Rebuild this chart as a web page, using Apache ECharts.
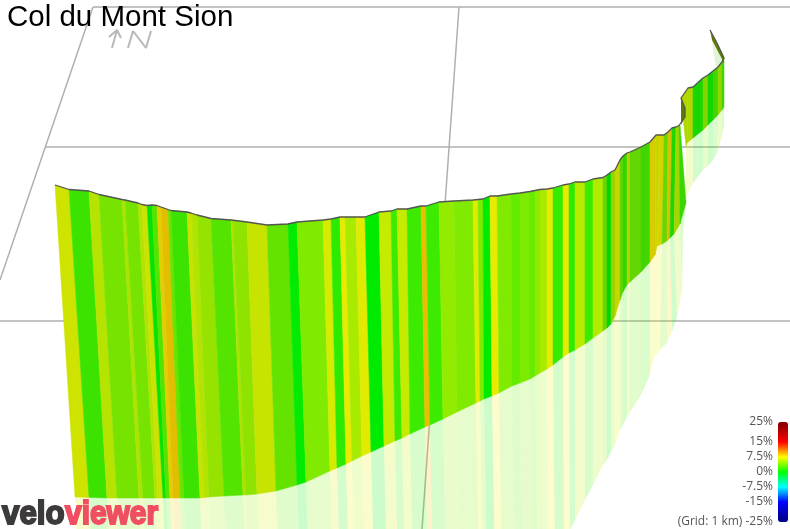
<!DOCTYPE html>
<html><head><meta charset="utf-8">
<style>html,body{margin:0;padding:0;background:#fff}#c{width:790px;height:529px}</style>
<script src="https://cdn.jsdelivr.net/npm/echarts@6/dist/echarts.min.js"></script>
</head><body><div id="c"></div>
<script>
// ---- climb wall, first stretch (projected scene values per station)
const part1TopX = [55,69,89,99,122,125,138,142,147,152,157,161,168,171,187,191,197,211,231,233,247,267,288,297,323,331,340,345,356,365,379,391,397,407,421,426,439,454,473,478,483,490,497,511,520,530,535,540,547,553,563,569,575,585,593,603,607,611,615,620,623,627,630,641,650,656,660,664,668,672,676,679,680];
const part1TopY = [185,189.5,191,194.5,199.5,200,203,204.5,205.5,205,205.5,207,209.5,210.5,212,213,215,218.5,220,220,222,225,224,222,220,219,217,217,217,217,212,211,209,209,206,206,202,201,200,199.5,199,196,196,194,193,191.5,190.5,189.5,189,188,185,184,182,182,179,177.5,175,172,170,160,156,153,152,147,142,135,135,135,132,128,127,125.5,125];
const part1BaseX = [75,89,107,117,139,143,155,158,163,166,170,173,180,184,200,204,209,224,243,246,257,276,297,306,330,337,346,352,362,371,384,395,402,410,425,430,443,457,476,480,484,492,499,512,520,530,535,540,547,553,563,569,575,585,593,603,607,611,615,620,623,627,630,641,650,655,657,662,667,670,674,680,686];
const part1BaseY = [497,497.5,498,498,498,498,498,498,498,498,498,498,498,498,498,497.5,497,496,495,495,494,491,485,482,471,468,464,461,456,452,446,441,438,434,427,425,419,412,403,401,399,396,393,386,383,379,376,373,369,365,357,353,350,344,338,331,328,324,316,300,292,285,282,272,262,255,246,244,241,238,234,224,203];
const part1GhostX = [78,92,110,120,142,146,158,161,166,169,173,176,183,187,203,207,212,227,246,249,260,279,300,309,333,340,349,355,365,374,387,398,405,413,428,433,446,460,479,483,487,495,502,515,523,533,538,543,549,555,564,570,575,585,593,603,607,611,615,620,623,627,630,641,650,653,655,660,667,672,677,682,683];
const part1GhostY = [570,570,570,570,570,570,570,570,570,570,570,570,570,570,570,570,570,570,570,570,570,570,570,570,570,570,570,570,570,570,570,570,570,570,570,570,570,570,570,570,570,570,570,570,570,570,570,570,570,560,540,530,520,500,485,465,460,452,445,430,425,417,412,395,375,362,356,350,343,332,317,290,233];
const part1Grades = [6.8,2,6,3.9,5.7,3.9,5.9,6.7,0.2,2.8,8.2,8.7,3.6,2,6.6,5.9,5,2.8,5.7,4.7,6.6,3.3,0.1,4.1,6.8,1.4,7.4,5.4,7.2,0,6.3,1.9,6.3,1.9,8.9,1.9,4.7,4.1,7.2,4,0,7.4,4.1,3.2,4,3.3,4.5,5.4,7.4,1.7,7.4,1.4,5.9,1.9,5.7,3.7,0,5.2,7,3.4,1.7,6.2,3.4,2.3,7.8,7,7.6,3.7,8.2,1.1,5.7,2];
// ---- climb wall, final stretch
const part2TopX = [681,688,693,703,708,713,718,722,724];
const part2TopY = [98,88,87,78,75,71,67,62,58];
const part2BaseX = [686,687,693,703,708,713,718,722,724];
const part2BaseY = [146,143,138,130,125,120,115,110,107];
const part2GhostX = [686,687,693,703,708,713,717,721,724];
const part2GhostY = [197,195,183,170,166,160,153,140,125];
const part2Grades = [6.2,6.2,0.9,4.5,0.6,2.3,5.1,2.3];
// ---- back-facing wall sections
const faceAX = [681,681,685,685];
const faceAY = [98,125,117,108];
const faceBX = [710,724,724,712];
const faceBY = [30,57,63,40];
const faceCX = [712,724,723,716,713];
const faceCY = [40,63,70,66,50];
// ---- ridge line pieces not in the wall tops
const cliffX = [685,685];
const cliffY = [117,108];
const summitX = [717,710];
const summitY = [43,30];
// ---- scene grid lines (null = break)
const gridX = [93,790,null,45,790,null,0,790,null,93,0,null,459,422];
const gridY = [7,7,null,147,147,null,321,321,null,7,280,null,7,529];
// ---- north arrow
const northX = [112,117,null,109,117,121,null,128,133,146,151];
const northY = [48,30,null,37,30,38,null,48,31,48,31];
// ---- legend
const legendGrades = [25,15,7.5,0,-7.5,-15,-25];
const legendLabels = ['25%','15%','7.5%','0%','-7.5%','-15%','(Grid: 1 km) -25%'];
const rampColors = ['#00007f','#00009f','#0000bf','#0000df','#0000ff','#0055ff','#00aaff','#00ffff','#00ffaa','#00ff55','#00ff00','#55ff00','#aaff00','#ffff00','#ffaa00','#ff5500','#ff0000','#df0000','#bf0000','#9f0000','#7f0000'];

function rows(tx,ty,bx,by,gx,gy,gr){
  return gr.map((g,i)=>[tx[i],ty[i],bx[i],by[i],gx[i],gy[i],tx[i+1],ty[i+1],bx[i+1],by[i+1],gx[i+1],gy[i+1],g]);
}
const part1 = rows(part1TopX,part1TopY,part1BaseX,part1BaseY,part1GhostX,part1GhostY,part1Grades);
const part2 = rows(part2TopX,part2TopY,part2BaseX,part2BaseY,part2GhostX,part2GhostY,part2Grades);

function shade(x){ return x<280 ? 0.89 : (x<600 ? 0.92 : 0.84); }
function dim(col,k){
  const c=echarts.color.parse(col);
  return 'rgb('+Math.round(c[0]*k)+','+Math.round(c[1]*k)+','+Math.round(c[2]*k)+')';
}
function wallItem(p,api){
  const v=d=>api.value(d);
  const pts=[api.coord([v(0),v(1)]),api.coord([v(6),v(7)]),api.coord([v(8),v(9)]),api.coord([v(2),v(3)])];
  const col=dim(api.visual('color'),shade(v(0)));
  return {type:'polygon',shape:{points:pts},style:{fill:col,stroke:col,lineWidth:0.5}};
}
function ghostItem(p,api){
  const v=d=>api.value(d);
  const pts=[api.coord([v(2),v(3)]),api.coord([v(8),v(9)]),api.coord([v(10),v(11)]),api.coord([v(4),v(5)])];
  return {type:'polygon',shape:{points:pts},style:{fill:dim(api.visual('color'),0.95),opacity:0.2}};
}
const enc={x:[0,2,4,6,8,10],y:[1,3,5,7,9,11]};
function zip(x,y){return x.map((a,i)=>[a,y[i]]);}
function faceSeries(xs,ys,color,z){
  return {type:'custom',silent:true,z:z,data:[xs.concat(ys)],encode:{x:xs.map((_,i)=>i),y:ys.map((_,i)=>i+xs.length)},
    renderItem:(p,api)=>({type:'polygon',shape:{points:xs.map((_,i)=>api.coord([api.value(i),api.value(i+xs.length)]))},style:{fill:color}})};
}
const ridge = zip(part1TopX,part1TopY).concat(zip(cliffX,cliffY)).concat(zip(part2TopX,part2TopY)).concat(zip(summitX,summitY));

const chart=echarts.init(document.getElementById('c'),null,{renderer:'canvas'});
const graphics=[];
legendGrades.forEach((g,i)=>graphics.push({type:'text',z:10,x:773,y:472-2*g,
  style:{text:legendLabels[i],font:'12px "Open Sans"',fill:'#555',align:'right',verticalAlign:'middle'}}));
graphics.push({type:'text',z:10,x:2,y:532,scaleX:0.92,originX:0,
  style:{text:'velo',font:'bold 34px "Liberation Sans"',fill:'#3d3a3b',stroke:'#3d3a3b',lineWidth:2,align:'left',verticalAlign:'bottom'}});
graphics.push({type:'text',z:10,x:65,y:532,scaleX:0.88,originX:0,
  style:{text:'viewer',font:'bold 34px "Liberation Sans"',fill:'#f04e63',stroke:'#f04e63',lineWidth:2,align:'left',verticalAlign:'bottom'}});

chart.setOption({
  animation:false,
  backgroundColor:'#fff',
  title:{text:'Col du Mont Sion',left:7,top:3,padding:0,textStyle:{fontFamily:'"Liberation Sans"',fontWeight:'normal',fontSize:29.5,color:'#000'}},
  grid:{left:0,right:0,top:0,bottom:0},
  xAxis:{type:'value',min:0,max:790,show:false},
  yAxis:{type:'value',min:0,max:529,inverse:true,show:false},
  visualMap:{type:'continuous',min:-25,max:25,dimension:12,seriesIndex:[2,3,4,5],inRange:{color:rampColors},
    left:778,top:422,itemWidth:10,itemHeight:100,padding:0,calculable:false,showLabel:false,text:null,hoverLink:false,z:10},
  graphic:graphics,
  series:[
    {type:'line',silent:true,z:1,data:zip(gridX,gridY),symbol:'none',connectNulls:false,lineStyle:{color:'#b0b0b0',width:1.5}},
    {type:'line',silent:true,z:1,data:zip(northX,northY),symbol:'none',connectNulls:false,lineStyle:{color:'#b8b8b8',width:2}},
    {type:'custom',silent:true,z:2,data:part2,encode:enc,renderItem:ghostItem},
    {type:'custom',silent:true,z:2,data:part1,encode:enc,renderItem:ghostItem},
    {type:'custom',silent:true,z:3,data:part2,encode:enc,renderItem:wallItem},
    {type:'custom',silent:true,z:3,data:part1,encode:enc,renderItem:wallItem},
    faceSeries(faceCX,faceCY,'#e2f3d6',2),
    faceSeries(faceAX,faceAY,'#5a7f00',4),
    faceSeries(faceBX,faceBY,'#5a7f00',4),
    {type:'line',silent:true,z:5,data:ridge,symbol:'none',lineStyle:{color:'#555',width:1.3}}
  ]
});
</script></body></html>
